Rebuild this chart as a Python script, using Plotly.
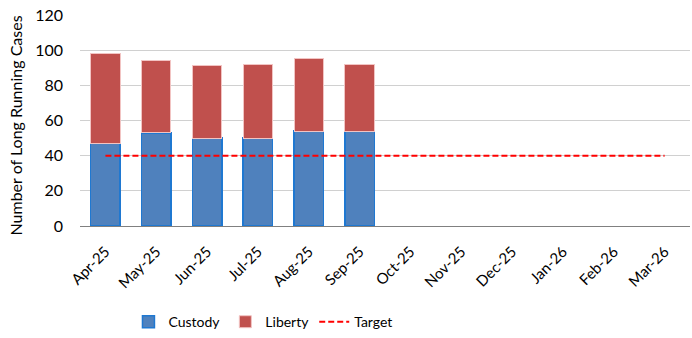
import plotly.graph_objects as go

months = ["Apr-25", "May-25", "Jun-25", "Jul-25", "Aug-25", "Sep-25",
          "Oct-25", "Nov-25", "Dec-25", "Jan-26", "Feb-26", "Mar-26"]
custody = [47, 53, 50, 50, 54, 54, None, None, None, None, None, None]
liberty = [51, 41, 41, 42, 41, 38, None, None, None, None, None, None]
target = [40] * 12

font_family = "Lato, Open Sans, sans-serif"

fig = go.Figure()
fig.add_trace(go.Bar(x=months, y=custody, name="Custody",
                     marker=dict(color="#4F81BD", line=dict(color="#1F78D1", width=1.5))))
fig.add_trace(go.Bar(x=months, y=liberty, name="Liberty",
                     marker=dict(color="#C0504D", line=dict(color="#F2C4C3", width=1))))
fig.add_trace(go.Scatter(x=months, y=target, name="Target", mode="lines",
                         line=dict(color="#FF0000", width=2, dash="6px,3px")))

fig.update_layout(
    width=692, height=338,
    barmode="stack", bargap=0.42,
    margin=dict(l=80, r=2, t=15, b=112, autoexpand=False),
    plot_bgcolor="white", paper_bgcolor="white",
    font=dict(family=font_family, size=15, color="#000000"),
    showlegend=True,
    legend=dict(orientation="h", x=0.38, xanchor="center", xref="container",
                y=0.047, yanchor="middle", yref="container",
                font=dict(size=14), traceorder="normal"),
    xaxis=dict(type="category", tickangle=-45, showgrid=False, automargin=False,
               showline=True, linecolor="#808080", linewidth=1,
               tickfont=dict(size=15), ticks="", ticklabelstandoff=10),
    yaxis=dict(range=[0, 120], dtick=20, showgrid=True, gridcolor="#D0D0D0",
               gridwidth=1, zeroline=False, showline=False, ticks="", automargin=False,
               tickfont=dict(size=16), ticklabelstandoff=16),
    annotations=[dict(text="Number of Long Running Cases", textangle=-90,
                      xref="paper", yref="paper", x=(15 - 80) / 610, y=(226 - 125.5) / 211,
                      xanchor="center", yanchor="middle", showarrow=False,
                      font=dict(size=16))],
)

fig.write_html("out.html")
